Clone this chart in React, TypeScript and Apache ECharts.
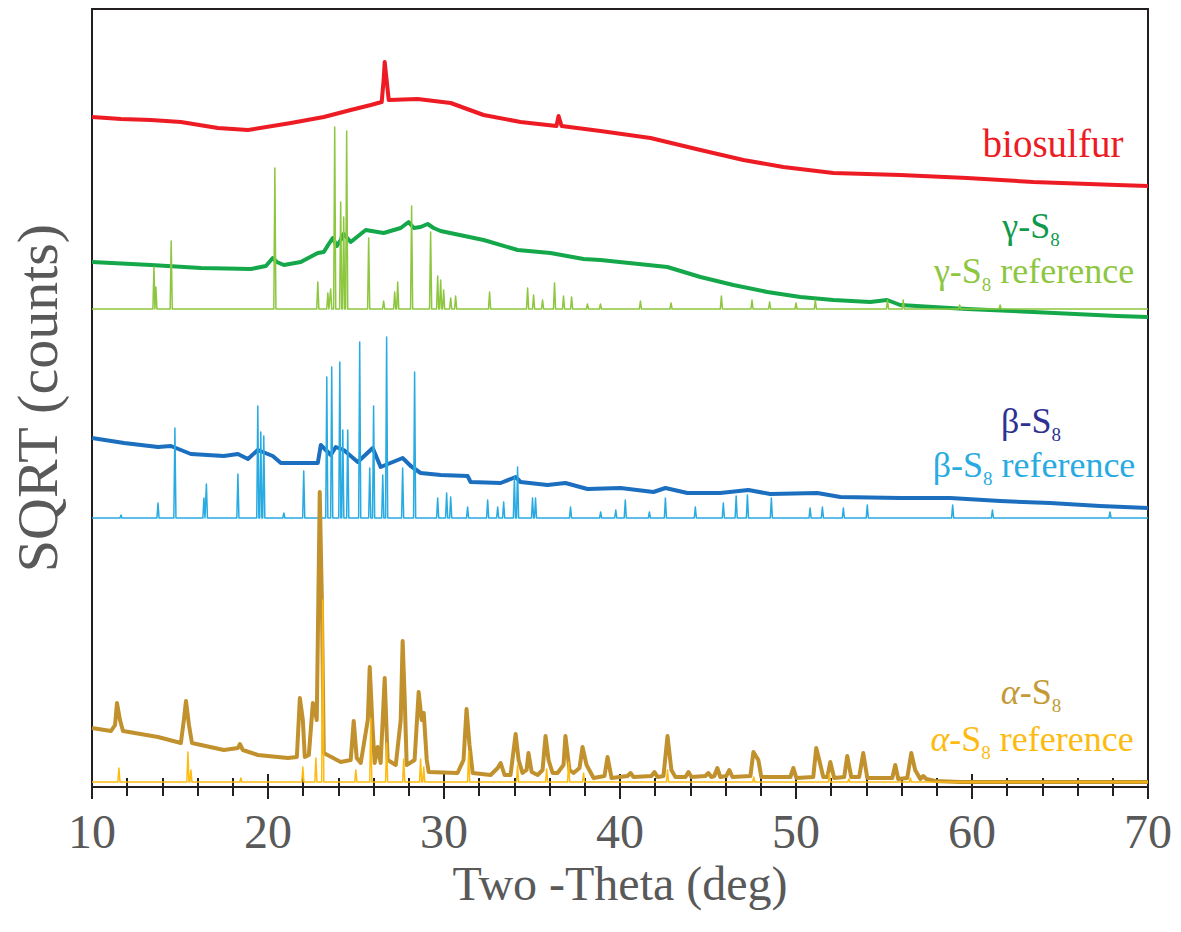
import React, { useEffect, useRef } from "react";
import * as echarts from "echarts";

// x: 2θ (deg); y: SQRT(counts) with vertical offsets (arbitrary units)
const X_MIN = 10;
const X_MAX = 70;
const Y_MAX = 778;

const biosulfur: [number, number][] = [
  [10.0, 670], [11.65, 668], [13.35, 667], [15.05, 665], [17.15, 659], [18.86, 657], [21.3, 664],
  [23.17, 670], [24.7, 677], [25.84, 682], [26.46, 685], [26.57, 707], [26.63, 725], [26.74, 707],
  [26.86, 687], [28.5, 688], [30.38, 684], [32.25, 672], [34.35, 665], [36.39, 661], [36.51, 671],
  [36.68, 661], [38.89, 656], [41.73, 649], [44.57, 637], [47.01, 627], [49.28, 620], [52.12, 614],
  [55.92, 612], [59.72, 609], [63.47, 605], [68.24, 602], [70, 601],
];

const gammaS8: [number, number][] = [
  [10, 525], [13.35, 522], [16.19, 519], [19.03, 518], [19.88, 521], [20.27, 529], [20.5, 525],
  [20.9, 522], [21.86, 525], [22.83, 534], [23.17, 535], [23.45, 543], [23.68, 549], [23.91, 541],
  [24.13, 547], [24.3, 553], [24.7, 545], [25.55, 557], [26.57, 554], [27.54, 559], [27.99, 565],
  [28.28, 559], [28.67, 560], [29.07, 563], [29.41, 559], [29.81, 556], [32.25, 547], [34.18, 537],
  [36.05, 534], [37.93, 528], [38.89, 527], [42.69, 520], [44.57, 510], [46.44, 502], [48.37, 495],
  [50.25, 490], [52.12, 487], [54.22, 485], [55.18, 487], [55.92, 482], [57.79, 480], [59.72, 478],
  [63.47, 475], [68.24, 471], [70, 470],
];

const gammaRefBase = 478;
const gammaRefPeaks: [number, number][] = [
  [13.52, 520], [13.63, 500], [14.5, 546], [20.39, 619], [22.83, 505], [23.4, 494], [23.56, 498],
  [23.79, 660], [24.13, 585], [24.3, 570], [24.47, 656], [25.72, 549], [26.57, 486], [27.2, 495],
  [27.37, 505], [28.16, 581], [29.24, 555], [29.64, 511], [29.81, 507], [29.98, 497], [30.38, 489],
  [30.66, 491], [32.59, 495], [34.75, 499], [35.09, 492], [35.6, 487], [36.28, 504], [36.79, 491],
  [37.25, 490], [38.15, 483], [38.89, 483], [41.16, 486], [42.9, 484], [45.76, 491], [47.5, 487],
  [48.5, 485], [50.0, 484], [51.1, 487], [55.2, 487], [56.09, 487], [59.3, 482], [61.6, 482],
];

const betaS8: [number, number][] = [
  [10, 349], [11.82, 344], [13.75, 340], [14.48, 341], [15.62, 333], [17.49, 331], [18.29, 333],
  [18.86, 328], [19.42, 337], [20.27, 331], [20.73, 324], [22.83, 324], [23.0, 342], [23.57, 332],
  [23.85, 340], [24.3, 337], [25.1, 325], [25.95, 339], [26.4, 320], [27.65, 329], [28.11, 321],
  [28.67, 314], [29.81, 312], [31.34, 311], [31.51, 305], [33.22, 304], [34.07, 310], [34.35, 305],
  [35.88, 302], [36.9, 304], [38.15, 298], [40.03, 299], [41.9, 295], [42.58, 299], [43.83, 294],
  [45.7, 294], [47.29, 297], [48.54, 293], [51.21, 294], [52.52, 290], [55.92, 289], [58.76, 289],
  [61.6, 286], [64.44, 284], [67.27, 281], [70, 279],
];

const betaRefBase = 269;
const betaRefPeaks: [number, number][] = [
  [11.65, 272], [13.75, 284], [14.71, 359], [16.36, 289], [16.5, 303], [18.29, 313], [19.42, 381],
  [19.59, 355], [19.76, 351], [20.9, 274], [22.03, 316], [23.34, 410], [23.62, 420], [24.08, 425],
  [24.25, 357], [24.53, 357], [25.21, 445], [25.78, 319], [26.0, 381], [26.52, 312], [26.74, 450],
  [27.65, 319], [28.33, 415], [29.64, 289], [30.15, 294], [30.38, 290], [31.34, 280], [32.48, 287],
  [33.05, 280], [33.39, 285], [34.0, 310], [34.18, 320], [35.03, 289], [35.2, 289], [37.19, 280],
  [38.9, 275], [39.76, 277], [40.3, 287], [41.67, 275], [42.58, 289], [44.28, 280], [45.87, 284],
  [46.6, 291], [47.24, 292], [48.6, 289], [50.8, 279], [51.5, 280], [52.69, 279], [54.05, 282],
  [58.9, 282], [61.16, 277], [67.84, 275],
];

const alphaS8: [number, number][] = [
  [10, 59], [11.08, 56], [11.31, 62], [11.42, 84], [11.59, 67], [11.76, 56], [13.75, 50], [15.05, 44],
  [15.22, 67], [15.34, 86], [15.51, 62], [15.68, 44], [17.49, 37], [18.29, 39], [18.4, 43], [18.57, 37],
  [19.42, 32], [21.13, 29], [21.64, 30], [21.81, 89], [21.98, 67], [22.09, 30], [22.32, 32], [22.55, 84],
  [22.66, 77], [22.77, 67], [22.86, 187], [22.94, 295], [23.06, 187], [23.17, 34], [24.13, 25],
  [24.7, 27], [24.87, 66], [25.04, 29], [25.27, 24], [25.67, 67], [25.78, 120], [25.95, 57], [26.06, 24],
  [26.23, 40], [26.4, 24], [26.63, 109], [26.8, 27], [27.26, 22], [27.54, 67], [27.65, 146], [27.77, 87],
  [27.88, 22], [28.33, 27], [28.56, 95], [28.73, 67], [28.85, 74], [29.02, 27], [29.13, 15], [30.77, 14],
  [31.11, 27], [31.28, 78], [31.45, 42], [31.63, 14], [32.65, 12], [33.05, 19], [33.22, 24], [33.44, 12],
  [33.78, 12], [34.07, 53], [34.24, 27], [34.46, 14], [34.69, 17], [34.8, 34], [34.98, 15], [35.32, 12],
  [35.6, 17], [35.77, 51], [35.94, 27], [36.17, 14], [36.45, 14], [36.79, 22], [36.9, 51], [37.13, 17],
  [37.36, 14], [37.7, 19], [37.87, 40], [38.1, 22], [38.5, 9], [39.12, 11], [39.29, 30], [39.52, 9],
  [40.43, 11], [40.6, 14], [40.77, 10], [41.79, 11], [41.96, 15], [42.13, 10], [42.47, 11], [42.7, 51],
  [42.92, 17], [43.15, 10], [43.72, 10], [43.89, 15], [44.06, 10], [44.85, 11], [45.02, 14], [45.19, 10],
  [45.36, 11], [45.53, 19], [45.7, 10], [46.04, 11], [46.21, 17], [46.39, 10], [47.41, 11], [47.58, 35],
  [47.86, 27], [48.03, 10], [49.68, 10], [49.85, 19], [50.02, 9], [50.98, 10], [51.15, 39], [51.32, 27],
  [51.55, 10], [51.78, 10], [51.95, 25], [52.17, 9], [52.74, 10], [52.91, 31], [53.14, 10], [53.59, 10],
  [53.82, 34], [54.05, 9], [55.47, 9], [55.64, 22], [55.81, 8], [56.32, 9], [56.55, 34], [56.77, 17],
  [57.06, 8], [57.23, 11], [57.4, 8], [57.91, 6], [59.33, 5], [61.6, 5], [70, 5],
];

const alphaRefBase = 5;
const alphaRefPeaks: [number, number][] = [
  [11.53, 19], [15.45, 35], [15.62, 17], [18.46, 9], [21.98, 20], [22.72, 29], [23.11, 187],
  [24.99, 17], [25.84, 68], [26.74, 44], [27.71, 28], [28.67, 28], [28.85, 20], [31.4, 36],
  [34.18, 22], [35.83, 18], [37.08, 25], [37.93, 14], [42.7, 17], [47.6, 10], [51.9, 13],
  [53.0, 8], [56.5, 9],
];

const tickLabels = ["10", "20", "30", "40", "50", "60", "70"];

const COLORS = {
  bio: "#ed1c24",
  gamma: "#14a84b",
  gammaLabel: "#0e9a4c",
  gammaRef: "#8dc63f",
  beta: "#1c6fbe",
  betaLabel: "#2e3192",
  betaRef: "#29abe2",
  alpha: "#c1912e",
  alphaLabel: "#c39a35",
  alphaRef: "#fdbb12",
  axis: "#231f20",
  text: "#595959",
};

const FONT = '"Liberation Serif", "DejaVu Serif", serif';

// stick-pattern profile from a reference peak list
function stickProfile(base: number, peaks: [number, number][]): [number, number][] {
  const hw = 0.06;
  const pts: [number, number][] = [[X_MIN, base]];
  let prevRight = X_MIN;
  peaks.forEach(([x, h], i) => {
    const next = peaks[i + 1];
    const left = Math.max(x - hw, prevRight);
    const right = next ? Math.min(x + hw, (x + next[0]) / 2) : x + hw;
    pts.push([left, base], [x, h], [right, base]);
    prevRight = right;
  });
  pts.push([X_MAX, base]);
  return pts;
}

function lineSeries(name: string, data: [number, number][], color: string, width: number) {
  return {
    name,
    type: "line",
    data,
    showSymbol: false,
    symbol: "none",
    silent: true,
    lineStyle: { color, width, join: "round" },
    itemStyle: { color },
  };
}

function label(x: number, y: number, text: string, color: string, size = 36) {
  return {
    type: "text",
    x,
    y,
    silent: true,
    style: {
      text,
      fill: color,
      align: "center",
      verticalAlign: "middle",
      fontFamily: FONT,
      fontSize: size,
      rich: {
        a: { fontSize: size, lineHeight: 34, fontFamily: FONT, fill: color },
        i: { fontSize: size, lineHeight: 34, fontFamily: FONT, fontStyle: "italic", fill: color },
        s: {
          fontSize: 19,
          lineHeight: 6,
          fontFamily: FONT,
          fill: color,
          verticalAlign: "top",
          padding: [21, 0, 0, 0],
        },
      },
    },
  };
}

export default function App() {
  const ref = useRef<HTMLDivElement>(null);
  useEffect(() => {
    if (!ref.current) return;
    const chart = echarts.init(ref.current, null, { renderer: "svg" });
    const tickLine = { color: COLORS.axis, width: 2 };
    chart.setOption({
      animation: false,
      backgroundColor: "#ffffff",
      grid: {
        left: 91,
        right: 33,
        top: 9,
        bottom: 145,
        show: true,
        borderColor: COLORS.axis,
        borderWidth: 2,
      },
      xAxis: [
        {
          type: "value",
          min: X_MIN,
          max: X_MAX,
          interval: 10,
          position: "bottom",
          axisLine: { show: true, onZero: false, lineStyle: tickLine },
          axisTick: { show: true, inside: false, length: 12, lineStyle: tickLine },
          minorTick: { show: true, splitNumber: 5, length: 9, lineStyle: tickLine },
          splitLine: { show: false },
          axisLabel: {
            color: COLORS.text,
            fontSize: 48,
            fontFamily: FONT,
            margin: 20,
            formatter: (v: number) => tickLabels[Math.round((v - X_MIN) / 10)] ?? String(v),
          },
          name: "Two -Theta (deg)",
          nameLocation: "middle",
          nameGap: 61,
          nameTextStyle: { color: COLORS.text, fontSize: 48, fontFamily: FONT },
        },
        {
          type: "value",
          min: X_MIN,
          max: X_MAX,
          interval: 10,
          position: "bottom",
          axisLine: { show: false, onZero: false },
          axisTick: { show: true, inside: true, length: 13, lineStyle: tickLine },
          minorTick: { show: true, splitNumber: 5, length: 9, lineStyle: tickLine },
          splitLine: { show: false },
          axisLabel: { show: false },
        },
      ],
      yAxis: {
        type: "value",
        min: 0,
        max: Y_MAX,
        axisLine: { show: false },
        axisTick: { show: false },
        axisLabel: { show: false },
        splitLine: { show: false },
        name: "SQRT (counts)",
        nameLocation: "middle",
        nameRotate: 90,
        nameGap: 26,
        nameTextStyle: { color: COLORS.text, fontSize: 58, fontFamily: FONT },
      },
      series: [
        lineSeries("biosulfur", biosulfur, COLORS.bio, 4),
        lineSeries("γ-S8", gammaS8, COLORS.gamma, 4),
        lineSeries("γ-S8 reference", stickProfile(gammaRefBase, gammaRefPeaks), COLORS.gammaRef, 1.5),
        lineSeries("β-S8", betaS8, COLORS.beta, 4),
        lineSeries("β-S8 reference", stickProfile(betaRefBase, betaRefPeaks), COLORS.betaRef, 1.5),
        lineSeries("α-S8", alphaS8, COLORS.alpha, 4),
        lineSeries("α-S8 reference", stickProfile(alphaRefBase, alphaRefPeaks), COLORS.alphaRef, 1.5),
      ],
      graphic: [
        label(1053, 143, "{a|biosulfur}", COLORS.bio, 39),
        label(1031, 226, "{a|γ-S}{s|8}", COLORS.gammaLabel),
        label(1034, 271, "{a|γ-S}{s|8}{a| reference}", COLORS.gammaRef),
        label(1031, 421, "{a|β-S}{s|8}", COLORS.betaLabel),
        label(1034, 465, "{a|β-S}{s|8}{a| reference}", COLORS.betaRef),
        label(1031, 692, "{i|α}{a|-S}{s|8}", COLORS.alphaLabel),
        label(1032, 739, "{i|α}{a|-S}{s|8}{a| reference}", COLORS.alphaRef),
      ],
    });
    return () => chart.dispose();
  }, []);
  return (
    <div
      ref={ref}
      style={{ position: "fixed", left: 0, top: 0, width: 1181, height: 932, background: "#fff" }}
    />
  );
}
